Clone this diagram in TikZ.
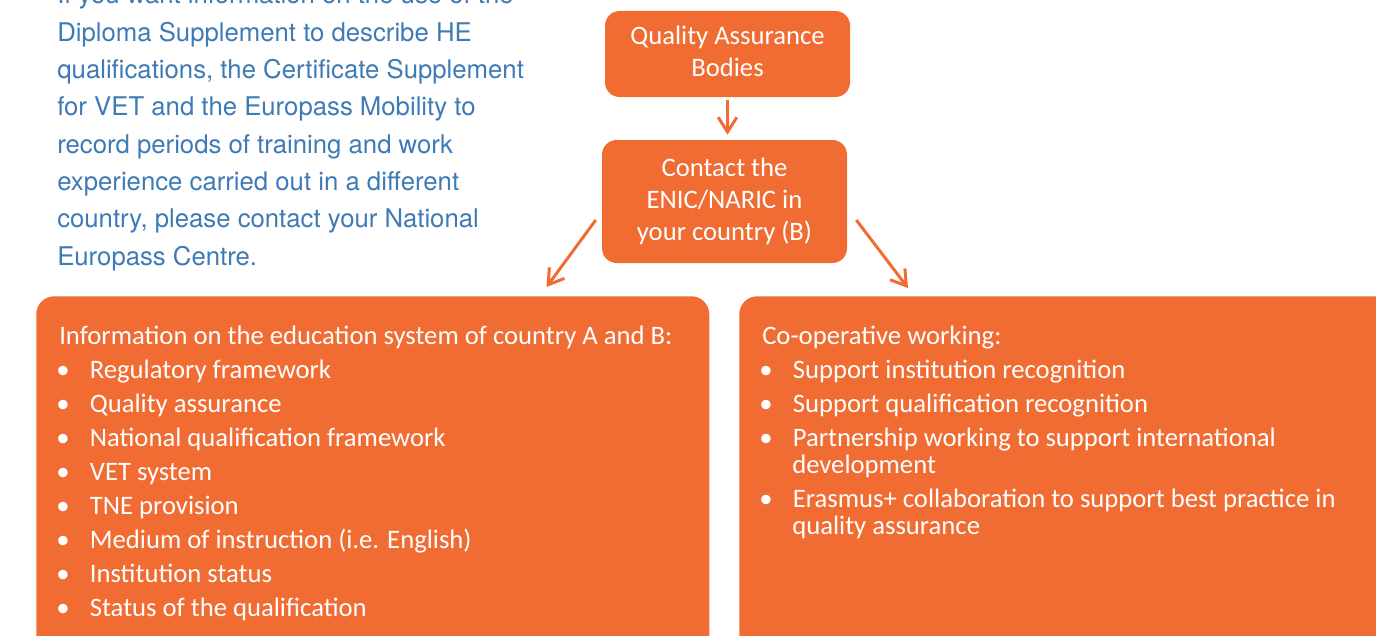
\documentclass[tikz,border=0pt]{standalone}
\usepackage{fontspec}
\setmainfont{Carlito}
\newfontfamily\blurbfont{TeX Gyre Heros}
\usepackage{enumitem}
\usetikzlibrary{arrows.meta}
\definecolor{qaorange}{RGB}{241,108,51}
\definecolor{qablue}{RGB}{62,122,181}
\setlist[itemize]{label=\textbullet, leftmargin=22.5pt, labelwidth=9.5pt, labelsep=15.25pt,
  labelindent=-2.25pt, align=left, itemsep=5.25pt, parsep=0pt, topsep=5.25pt, partopsep=0pt}

\begin{document}
\begin{tikzpicture}[x=0.75pt,y=-0.75pt]
  \tikzset{BoxStyle/.style = {fill=qaorange,text=white,rounded corners=11pt,align=center,inner sep=0pt,
      font=\fontsize{20}{24}\selectfont},
    BigBoxStyle/.style = {fill=qaorange,text=white,rounded corners=13.5pt,anchor=north west,
      inner xsep=17.25pt,inner ysep=22.5pt,font=\fontsize{20}{20.25}\selectfont},
    ArrowStyle/.style = {draw=qaorange,line width=2.25pt,-{Straight Barb[length=11pt,width=14pt]}}}
\clip (0,0) rectangle (1376,635);
%
\node[anchor=base west,align=left,inner sep=0pt,text=qablue,font=\blurbfont\fontsize{19.3}{28}\selectfont] (blurb) at (57,265)
  {If you want information on the use of the\\Diploma Supplement to describe HE\\qualifications, the Certificate Supplement\\for VET and the Europass Mobility to\\record periods of training and work\\experience carried out in a different\\country, please contact your National\\Europass Centre.};
%
\node[BoxStyle,minimum width=183.75pt,minimum height=64.5pt,text depth=4.7pt] (qab) at (727.5,54) {Quality Assurance\\Bodies};
\node[BoxStyle,minimum width=183.75pt,minimum height=92.25pt] (enic) at (724.5,201.5) {Contact the\\ENIC/NARIC in\\your country (B)};
%
\node[BigBoxStyle] (info) at (36,296) {\begin{minipage}[t][240pt][t]{470.25pt}
Information on the education system of country A and B:
\begin{itemize}
  \item Regulatory framework
  \item Quality assurance
  \item National qualification framework
  \item VET system
  \item TNE provision
  \item Medium of instruction (i.e. English)
  \item Institution status
  \item Status of the qualification
\end{itemize}
\end{minipage}};
\node[BigBoxStyle] (coop) at (739,296) {\begin{minipage}[t][240pt][t]{500pt}
Co-operative working:
\begin{itemize}
  \item Support institution recognition
  \item Support qualification recognition
  \item Partnership working to support international\\development
  \item Erasmus+ collaboration to support best practice in\\quality assurance
\end{itemize}
\end{minipage}};
%
\draw[ArrowStyle,shorten <=2.25pt,shorten >=3.75pt] (qab) -- (qab |- enic.north);
\draw[ArrowStyle] ([shift={(-6,18.5)}]enic.west) -- ([shift={(-163,-9)}]info.north east);
\draw[ArrowStyle] ([shift={(9,18.5)}]enic.east) -- ([shift={(169,-8)}]coop.north west);
\end{tikzpicture}
\end{document}
